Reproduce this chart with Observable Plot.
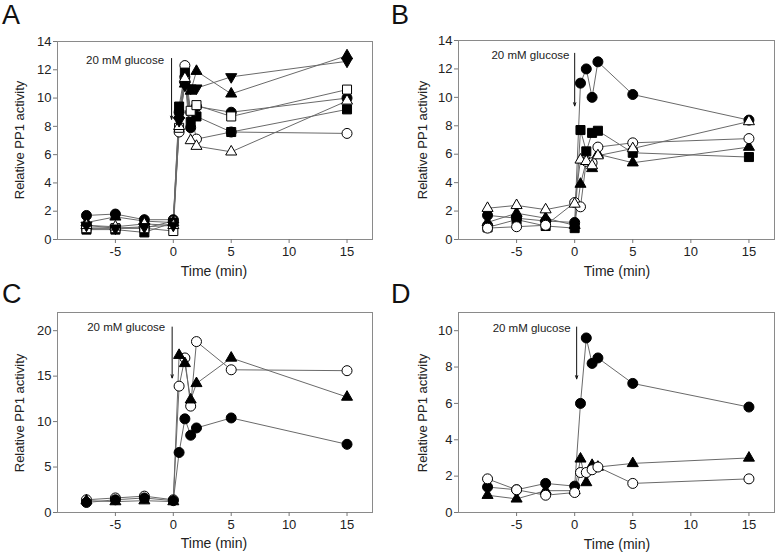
<!DOCTYPE html>
<html><head><meta charset="utf-8">
<script src="https://cdn.jsdelivr.net/npm/d3@7"></script>
<script src="https://cdn.jsdelivr.net/npm/@observablehq/plot@0.6"></script>
<style>
body{margin:0;background:#fff;}
#root{position:relative;width:777px;height:555px;overflow:hidden;font-family:"Liberation Sans",Arial,sans-serif;color:#222;}
.panel{position:absolute;}
.letter{position:absolute;font-size:27px;line-height:1;color:#111;}
.ylab{position:absolute;font-size:13px;white-space:nowrap;transform:translate(-50%,-50%) rotate(-90deg);}
.xlab{position:absolute;font-size:14px;white-space:nowrap;transform:translate(-50%,-50%);}
</style></head><body><div id="root"></div>
<script>
// ---- data ----
const times = [-7.5, -5, -2.5, 0, 0.5, 1, 1.5, 2, 5, 15];
const xTicks = [-5, 0, 5, 10, 15];

// Panel A
const aFilledCircle = [1.7, 1.8, 1.4, 1.4, 9.0, 11.5, 7.9, 9.4, 9.0, 10.0];
const aOpenCircle   = [0.8, 0.8, 0.8, 1.3, 7.6, 12.3, 9.0, 7.1, 7.6, 7.5];
const aFilledSquare = [0.7, 0.7, 0.5, 1.2, 9.4, 11.8, 8.3, 8.7, 7.6, 9.2];
const aOpenSquare   = [0.8, 0.8, 0.8, 0.6, 7.9, 11.2, 9.1, 9.5, 8.7, 10.6];
const aFilledTriUp  = [1.2, 1.6, 1.3, 1.2, 8.8, 11.0, 10.5, 11.9, 10.3, 13.0];
const aOpenTriUp    = [1.0, 0.9, 1.1, 1.0, 8.0, 11.4, 7.0, 6.6, 6.2, 9.8];
const aFilledTriDn  = [1.0, 0.8, 0.9, 1.0, 8.4, 10.9, 10.7, 10.7, 11.5, 12.6];
const aYTicks = [0, 2, 4, 6, 8, 10, 12, 14];

// Panel B
const bFilledCircle = [1.7, 1.5, 1.3, 1.2, 11.0, 12.0, 10.0, 12.5, 10.2, 8.4];
const bFilledSquare = [0.85, 1.4, 0.95, 0.8, 7.7, 6.2, 7.5, 7.65, 6.1, 5.8];
const bFilledTriUp  = [1.2, 1.85, 1.5, 1.0, 3.9, 5.5, 5.0, 6.0, 5.4, 6.5];
const bOpenCircle   = [0.8, 0.9, 1.0, 2.6, 2.3, 5.5, 5.4, 6.5, 6.8, 7.1];
const bOpenTriUp    = [2.2, 2.4, 2.1, 2.5, 5.6, 5.5, 5.2, 5.9, 6.4, 8.3];
const bYTicks = [0, 2, 4, 6, 8, 10, 12, 14];

// Panel C
const cOpenCircle   = [1.4, 1.6, 1.8, 1.4, 13.9, 17.0, 11.7, 18.8, 15.7, 15.6];
const cFilledTriUp  = [1.3, 1.2, 1.3, 1.2, 17.3, 16.4, 12.4, 14.2, 17.0, 12.7];
const cFilledCircle = [1.1, 1.4, 1.6, 1.3, 6.6, 10.3, 8.5, 9.3, 10.4, 7.5];
const cYTicks = [0, 5, 10, 15, 20];

// Panel D
const dFilledCircle = [1.4, 1.25, 1.6, 1.45, 6.0, 9.6, 8.2, 8.5, 7.1, 5.8];
const dFilledTriUp  = [0.95, 0.75, 1.2, 1.2, 2.95, 1.65, 2.6, 2.5, 2.7, 3.0];
const dOpenCircle   = [1.85, 1.25, 0.95, 1.1, 2.2, 2.2, 2.35, 2.5, 1.6, 1.85];
const dYTicks = [0, 2, 4, 6, 8, 10];

const annotationText = "20 mM glucose";
const xLabel = "Time (min)";
const yLabel = "Relative PP1 activity";

// ---- symbols ----
const triangleDown = {
  draw(ctx, size) {
    const s3 = Math.sqrt(3);
    const y = -Math.sqrt(size / (s3 * 3));
    ctx.moveTo(0, -y * 2);
    ctx.lineTo(-s3 * y, y);
    ctx.lineTo(s3 * y, y);
    ctx.closePath();
  }
};
const sym = {
  fc: {symbol: "circle", fill: "black", r: 5},
  oc: {symbol: "circle", fill: "white", r: 5},
  fs: {symbol: "square", fill: "black", r: 5.1},
  os: {symbol: "square", fill: "white", r: 5.1},
  ft: {symbol: "triangle", fill: "black", r: 4.1},
  ot: {symbol: "triangle", fill: "white", r: 4.1},
  fd: {symbol: triangleDown, fill: "black", r: 4.1}
};

function rows(values) { return values.map((v, i) => ({t: times[i], v})); }

function panel(cfg) {
  const marks = [Plot.frame({stroke: "#8a8a8a"})];
  marks.push(Plot.axisX({ticks: xTicks, tickSize: 4, tickPadding: 3, label: null, stroke: "#777", fill: "#222", fontSize: 13, tickFormat: d => String(d)}));
  marks.push(Plot.axisY({ticks: cfg.yTicks, tickSize: 4, tickPadding: 2, label: null, stroke: "#777", fill: "#222", fontSize: 13, tickFormat: d => String(d)}));
  for (const s of cfg.series) marks.push(Plot.line(rows(s.values), {x: "t", y: "v", stroke: "#6a6a6a", strokeWidth: 1}));
  for (const s of cfg.series) {
    const k = sym[s.kind];
    marks.push(Plot.dot(rows(s.values), {x: "t", y: "v", symbol: k.symbol, r: k.r, fill: k.fill, stroke: "black", strokeWidth: 1}));
  }
  marks.push(Plot.arrow([cfg.arrow], {x1: "x", y1: "y1", x2: "x", y2: "y2", stroke: "#111", strokeWidth: 1, headLength: 5, headAngle: 40}));
  marks.push(Plot.text([cfg.label], {x: "x", y: "y", text: () => annotationText, textAnchor: "end", fontSize: 11.5, fill: "#222"}));
  const svg = Plot.plot({
    width: cfg.w, height: cfg.h,
    marginLeft: cfg.ml, marginRight: cfg.mr, marginTop: cfg.mt, marginBottom: cfg.mb,
    style: {fontFamily: '"Liberation Sans", Arial, sans-serif', background: "transparent", overflow: "visible"},
    x: {domain: [-10, 17.2]},
    y: {domain: cfg.yDomain},
    marks
  });
  const wrap = document.createElement("div");
  wrap.className = "panel";
  wrap.style.left = cfg.left + "px";
  wrap.style.top = cfg.top + "px";
  wrap.appendChild(svg);
  root.appendChild(wrap);
  const L = document.createElement("div"); L.className = "letter"; L.textContent = cfg.letter;
  L.style.left = cfg.letterX + "px"; L.style.top = cfg.letterY + "px"; root.appendChild(L);
  const yl = document.createElement("div"); yl.className = "ylab"; yl.textContent = yLabel;
  yl.style.left = cfg.ylx + "px"; yl.style.top = cfg.yly + "px"; root.appendChild(yl);
  const xl = document.createElement("div"); xl.className = "xlab"; xl.textContent = xLabel;
  xl.style.left = cfg.xlx + "px"; xl.style.top = cfg.xly + "px"; root.appendChild(xl);
}

const root = document.getElementById("root");

panel({
  letter: "A", letterX: 2, letterY: 2, left: 0, top: 0, w: 388, h: 280, ml: 57, mr: 16, mt: 41, mb: 41,
  yDomain: [0, 14], yTicks: aYTicks, ylx: 19, yly: 140, xlx: 214, xly: 271,
  arrow: {x: -0.15, y1: 12.8, y2: 8.5}, label: {x: -0.8, y: 12.66},
  series: [
    {kind: "fc", values: aFilledCircle}, {kind: "oc", values: aOpenCircle},
    {kind: "fs", values: aFilledSquare}, {kind: "os", values: aOpenSquare},
    {kind: "ft", values: aFilledTriUp}, {kind: "ot", values: aOpenTriUp},
    {kind: "fd", values: aFilledTriDn}
  ]
});
panel({
  letter: "B", letterX: 391, letterY: 2, left: 389, top: 0, w: 388, h: 280, ml: 69, mr: 3, mt: 40, mb: 41,
  yDomain: [0, 14], yTicks: bYTicks, ylx: 422, yly: 140, xlx: 617, xly: 271,
  arrow: {x: 0, y1: 13.1, y2: 9.4}, label: {x: -0.45, y: 12.95},
  series: [
    {kind: "fc", values: bFilledCircle}, {kind: "fs", values: bFilledSquare},
    {kind: "ft", values: bFilledTriUp}, {kind: "oc", values: bOpenCircle},
    {kind: "ot", values: bOpenTriUp}
  ]
});
panel({
  letter: "C", letterX: 2, letterY: 281, left: 0, top: 280, w: 388, h: 275, ml: 57, mr: 16, mt: 32, mb: 43,
  yDomain: [0, 22], yTicks: cYTicks, ylx: 19, yly: 413, xlx: 214, xly: 543,
  arrow: {x: -0.1, y1: 20.4, y2: 14.8}, label: {x: -0.7, y: 20.4},
  series: [
    {kind: "oc", values: cOpenCircle}, {kind: "ft", values: cFilledTriUp},
    {kind: "fc", values: cFilledCircle}
  ]
});
panel({
  letter: "D", letterX: 391, letterY: 281, left: 389, top: 280, w: 388, h: 275, ml: 69, mr: 3, mt: 32, mb: 43,
  yDomain: [0, 11], yTicks: dYTicks, ylx: 422, yly: 413, xlx: 617, xly: 544,
  arrow: {x: 0.17, y1: 10.2, y2: 7.35}, label: {x: -0.35, y: 10.15},
  series: [
    {kind: "fc", values: dFilledCircle}, {kind: "ft", values: dFilledTriUp},
    {kind: "oc", values: dOpenCircle}
  ]
});
</script></body></html>
